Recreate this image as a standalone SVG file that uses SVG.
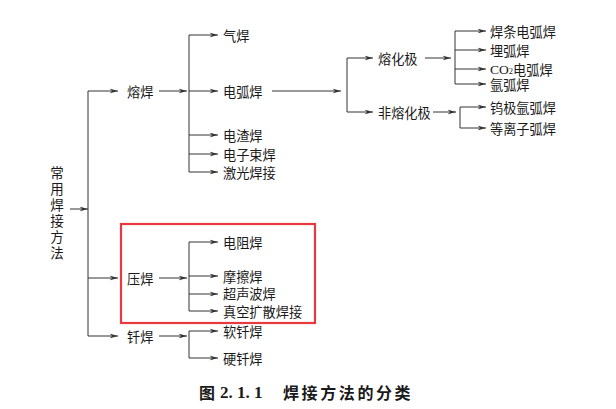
<svg xmlns="http://www.w3.org/2000/svg" width="616" height="409" viewBox="0 0 616 409">
<defs>
<marker id="ah" markerUnits="userSpaceOnUse" markerWidth="9" markerHeight="6" refX="8.5" refY="3" orient="auto">
<path d="M0,0.6 L8.5,3 L0,5.4 L2.6,3 Z" fill="#333"/>
</marker>
<style>
.c line, .c path { stroke: #333; stroke-width: 1; fill: none; }
.a { marker-end: url(#ah); }
text { font-family: "Noto Sans CJK SC", "Noto Sans", sans-serif; font-size: 13.2px; fill: #1a1a1a; dominant-baseline: central; }
.v { writing-mode: vertical-rl; font-size: 13.5px; letter-spacing: 2.5px; }
.cap { font-family: "Liberation Serif", "Noto Sans CJK SC", serif; font-weight: bold; font-size: 17px; }
.capc { font-family: "Noto Sans CJK SC", sans-serif; font-weight: bold; font-size: 16px; letter-spacing: 2.6px; }
.lat { font-family: "Liberation Serif", serif; }
</style>
</defs>
<rect width="616" height="409" fill="#fff"/>

<g class="c" id="connectors">
<line class="a" x1="70" y1="209" x2="88" y2="209"/>
<line x1="88" y1="91" x2="88" y2="336"/>
<line class="a" x1="88" y1="91" x2="118" y2="91"/>
<line class="a" x1="88" y1="278" x2="118" y2="278"/>
<line class="a" x1="88" y1="336" x2="118" y2="336"/>

<line class="a" x1="159" y1="91" x2="187" y2="91"/>
<line x1="189" y1="35" x2="189" y2="172"/>
<line class="a" x1="189" y1="35" x2="218" y2="35"/>
<line class="a" x1="189" y1="91" x2="218" y2="91"/>
<line class="a" x1="189" y1="135" x2="218" y2="135"/>
<line class="a" x1="189" y1="154" x2="218" y2="154"/>
<line class="a" x1="189" y1="172" x2="218" y2="172"/>

<line class="a" x1="272" y1="91" x2="341" y2="91"/>
<line x1="347" y1="58" x2="347" y2="112"/>
<line class="a" x1="347" y1="58" x2="373" y2="58"/>
<line class="a" x1="347" y1="112" x2="373" y2="112"/>

<line class="a" x1="425" y1="58" x2="451" y2="58"/>
<line x1="455" y1="31" x2="455" y2="84"/>
<line class="a" x1="455" y1="31" x2="486" y2="31"/>
<line class="a" x1="455" y1="50" x2="486" y2="50"/>
<line class="a" x1="455" y1="69" x2="486" y2="69"/>
<line class="a" x1="455" y1="84" x2="486" y2="84"/>

<line class="a" x1="433" y1="112" x2="456" y2="112"/>
<line x1="460" y1="107" x2="460" y2="128"/>
<line class="a" x1="460" y1="107" x2="486" y2="107"/>
<line class="a" x1="460" y1="128" x2="486" y2="128"/>

<line class="a" x1="159" y1="278" x2="187" y2="278"/>
<line x1="189" y1="242" x2="189" y2="311"/>
<line class="a" x1="189" y1="242" x2="218" y2="242"/>
<line class="a" x1="189" y1="276" x2="218" y2="276"/>
<line class="a" x1="189" y1="294" x2="218" y2="294"/>
<line class="a" x1="189" y1="311" x2="218" y2="311"/>

<line class="a" x1="159" y1="336" x2="187" y2="336"/>
<line x1="189" y1="331" x2="189" y2="358"/>
<line class="a" x1="189" y1="331" x2="218" y2="331"/>
<line class="a" x1="189" y1="358" x2="218" y2="358"/>
</g>

<g id="root">
<text class="v" x="57" y="166">常用焊接方法</text>
</g>

<g id="n-rh"><text x="127" y="91">熔焊</text></g>
<g id="n-yh"><text x="127" y="278">压焊</text></g>
<g id="n-qh"><text x="127" y="336">钎焊</text></g>

<g id="n-qihan"><text x="223" y="35">气焊</text></g>
<g id="n-dhh"><text x="223" y="91">电弧焊</text></g>
<g id="n-dzh"><text x="223" y="135">电渣焊</text></g>
<g id="n-dzsh"><text x="223" y="154">电子束焊</text></g>
<g id="n-jghj"><text x="223" y="172">激光焊接</text></g>

<g id="n-rhj"><text x="378" y="58">熔化极</text></g>
<g id="n-frhj"><text x="378" y="112">非熔化极</text></g>

<g id="n-htdhh"><text x="490" y="31">焊条电弧焊</text></g>
<g id="n-mhh"><text x="490" y="50">埋弧焊</text></g>
<g id="n-co2"><text x="490" y="68.5"><tspan class="lat" font-size="13.5">CO</tspan><tspan class="lat" font-size="8.5" dy="2.5">2</tspan><tspan dy="-2.5">电弧焊</tspan></text></g>
<g id="n-yhh"><text x="490" y="84.5">氩弧焊</text></g>
<g id="n-wj"><text x="490" y="107">钨极氩弧焊</text></g>
<g id="n-dlz"><text x="490" y="128">等离子弧焊</text></g>

<g id="n-dzuh"><text x="223" y="242">电阻焊</text></g>
<g id="n-mch"><text x="223" y="276">摩擦焊</text></g>
<g id="n-csb"><text x="223" y="293.2">超声波焊</text></g>
<g id="n-zk"><text x="223" y="311.5">真空扩散焊接</text></g>

<g id="n-rqh"><text x="223" y="331">软钎焊</text></g>
<g id="n-yqh"><text x="223" y="358">硬钎焊</text></g>

<rect x="121" y="224" width="194" height="99" fill="none" stroke="#e8393f" stroke-width="2.2"/>

<g id="caption">
<text class="capc" x="199" y="392" style="letter-spacing:0">图</text>
<text class="cap" x="220" y="392">2. 1. 1</text>
<text class="capc" x="283" y="392">焊接方法的分类</text>
</g>
</svg>
